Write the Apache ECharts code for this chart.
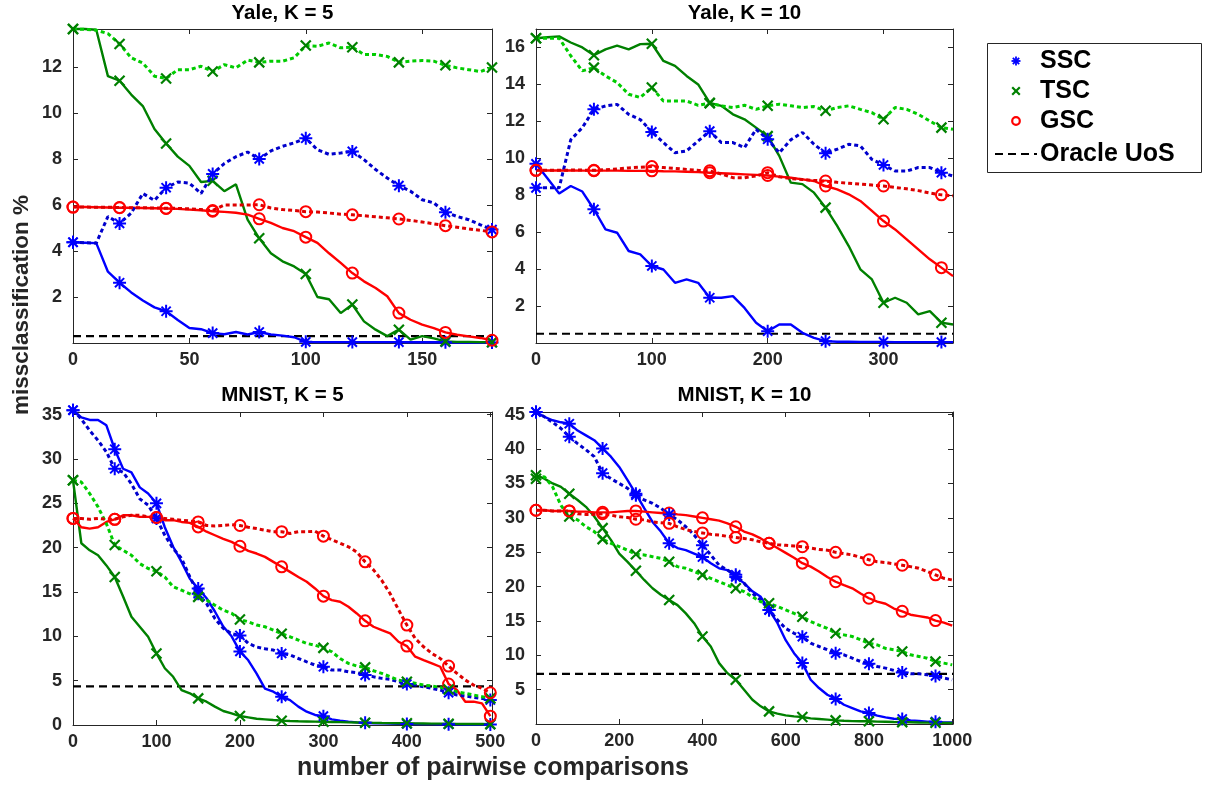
<!DOCTYPE html>
<html>
<head>
<meta charset="utf-8">
<title>Misclassification vs pairwise comparisons</title>
<script src="https://cdn.jsdelivr.net/npm/echarts@6/dist/echarts.min.js"></script>
<style>
  html, body { margin: 0; padding: 0; background: #ffffff; }
  #chart { width: 1208px; height: 786px; }
</style>
</head>
<body>
<div id="chart"></div>
<script>
// ---- x positions (number of pairwise comparisons) ----
const yaleK5X = [0,5,10,15,20,25,30,35,40,45,50,55,60,65,70,75,80,85,90,95,100,105,110,115,120,125,130,135,140,145,150,155,160,165,170,175,180];
const yaleK10X = [0,10,20,30,40,50,60,70,80,90,100,110,120,130,140,150,160,170,180,190,200,210,220,230,240,250,260,270,280,290,300,310,320,330,340,350,360];
const mnistK5X = [0,10,20,30,40,50,60,70,80,90,100,110,120,130,140,150,160,170,180,190,200,210,220,230,240,250,260,270,280,290,300,310,320,330,340,350,360,370,380,390,400,410,420,430,440,450,460,470,480,490,500];
const mnistK10X = [0,20,40,60,80,100,120,140,160,180,200,220,240,260,280,300,320,340,360,380,400,420,440,460,480,500,520,540,560,580,600,620,640,660,680,700,720,740,760,780,800,820,840,860,880,900,920,940,960,980,1000];

// ---- x positions that carry a marker ----
const yaleK5Marks = [0,20,40,60,80,100,120,140,160,180];
const yaleK10Marks = [0,50,100,150,200,250,300,350];
const mnistK5Marks = [0,50,100,150,200,250,300,350,400,450,500];
const mnistK10Marks = [0,80,160,240,320,400,480,560,640,720,800,880,960];

// ---- Yale, K = 5 (solid / dotted) ----
const yaleK5SSC = [4.38,4.36,4.34,3.10,2.62,2.20,1.85,1.55,1.38,1.00,0.65,0.60,0.43,0.38,0.48,0.37,0.48,0.37,0.32,0.25,0.05,0.04,0.04,0.04,0.04,0.04,0.04,0.04,0.04,0.03,0.03,0.03,0.03,0.02,0.02,0.02,0.02];
const yaleK5SSCdot = [4.38,4.36,4.34,5.5,5.2,5.65,6.5,6.2,6.75,7.0,6.95,6.5,7.35,7.8,8.1,8.3,8.0,8.35,8.55,8.7,8.9,8.4,8.2,8.26,8.33,7.97,7.54,7.17,6.84,6.6,6.23,6.09,5.68,5.5,5.36,5.14,4.93];
const yaleK5TSC = [13.65,13.65,13.62,11.6,11.4,10.8,10.3,9.3,8.67,8.1,7.7,7.0,7.05,6.6,6.9,5.36,4.55,3.9,3.55,3.33,3.0,2.0,1.9,1.3,1.67,0.94,0.58,0.3,0.58,0.15,0.3,0.2,0.07,0.05,0.05,0.04,0.03];
const yaleK5TSCdot = [13.65,13.64,13.6,13.45,13.0,12.4,12.17,11.6,11.5,11.88,11.88,12.03,11.8,12.1,11.96,12.3,12.2,12.25,12.25,12.4,12.93,12.9,13.04,12.83,12.86,12.54,12.54,12.46,12.2,12.25,12.28,12.25,12.07,11.96,11.88,11.8,11.98];
const yaleK5GSC = [5.91,5.91,5.9,5.89,5.88,5.88,5.87,5.86,5.85,5.83,5.8,5.77,5.73,5.7,5.66,5.58,5.4,5.22,5.0,4.86,4.6,4.35,3.9,3.48,3.04,2.68,2.39,2.03,1.3,1.01,0.8,0.65,0.46,0.36,0.29,0.22,0.12];
const yaleK5GSCdot = [5.91,5.91,5.9,5.9,5.89,5.88,5.88,5.87,5.86,5.85,5.83,5.8,5.76,6.0,6.0,6.0,6.01,5.87,5.8,5.76,5.71,5.69,5.65,5.6,5.57,5.53,5.49,5.44,5.39,5.33,5.26,5.18,5.1,5.03,4.96,4.9,4.83];

// ---- Yale, K = 10 ----
const yaleK10SSC = [9.7,8.9,8.1,8.5,8.2,7.24,6.15,5.97,4.98,4.8,4.17,3.98,3.26,3.44,3.26,2.45,2.45,2.54,1.9,1.1,0.64,1.0,1.0,0.55,0.28,0.1,0.07,0.07,0.06,0.06,0.06,0.05,0.05,0.05,0.05,0.05,0.05];
const yaleK10SSCdot = [8.4,8.4,8.4,11.0,11.66,12.65,12.83,12.92,12.38,12.1,11.43,10.85,10.3,10.4,10.94,11.47,10.85,10.85,10.58,11.57,11.03,10.3,11.0,11.4,10.76,10.27,10.49,10.76,10.67,9.94,9.64,9.31,9.31,9.5,9.5,9.22,9.04];
const yaleK10TSC = [16.5,16.55,16.6,16.27,16.0,15.58,15.9,16.1,15.9,16.18,16.2,15.27,15.0,14.46,14.0,13.0,12.84,12.38,12.11,11.66,11.2,10.13,8.68,8.6,8.14,7.33,6.34,5.25,3.99,3.44,2.18,2.45,2.18,1.55,1.73,1.1,1.0];
const yaleK10TSCdot = [16.5,16.5,16.5,15.55,14.73,14.91,14.46,14.1,13.47,13.29,13.83,13.1,13.1,13.1,12.87,12.98,12.84,12.75,12.87,12.65,12.84,12.93,12.84,12.75,12.8,12.57,12.75,12.84,12.65,12.47,12.11,12.75,12.65,12.38,12.02,11.66,11.57];
const yaleK10GSC = [9.35,9.34,9.34,9.34,9.33,9.33,9.33,9.33,9.32,9.32,9.32,9.3,9.29,9.27,9.25,9.22,9.19,9.16,9.13,9.1,9.07,9.01,8.95,8.86,8.77,8.5,8.32,8.05,7.69,7.15,6.6,6.15,5.61,5.07,4.53,4.08,3.62];
const yaleK10GSCdot = [9.35,9.35,9.35,9.36,9.36,9.35,9.38,9.42,9.48,9.52,9.55,9.5,9.45,9.4,9.35,9.32,9.15,8.95,8.95,9.05,9.22,9.0,8.9,8.85,8.8,8.77,8.7,8.65,8.6,8.55,8.5,8.42,8.35,8.25,8.12,8.02,7.97];

// ---- MNIST, K = 5 ----
const mnistK5SSC = [35.5,34.7,34.4,34.4,33.8,31.1,28.9,28.5,26.8,26.1,25.0,22.3,20.1,18.4,16.5,15.4,14.3,12.8,11.1,10.0,8.3,7.3,5.8,4.1,3.76,3.2,2.8,2.07,1.5,1.13,1.0,0.64,0.49,0.38,0.3,0.26,0.2,0.18,0.15,0.13,0.12,0.11,0.1,0.1,0.09,0.08,0.07,0.06,0.06,0.05,0.05];
const mnistK5SSCdot = [35.5,34.5,33.2,32.1,30.8,28.9,28.5,27.2,25.5,24.8,23.3,21.4,19.9,18.8,16.7,14.8,13.7,12.0,10.9,10.3,10.1,9.2,8.8,8.6,8.45,8.07,7.9,7.5,7.13,6.76,6.57,6.2,6.2,6.0,5.9,5.63,5.44,5.26,5.14,4.88,4.62,4.5,4.32,4.13,3.94,3.64,3.38,3.27,3.12,3.0,2.82];
const mnistK5TSC = [27.6,20.5,19.7,19.15,18.0,16.7,14.5,12.2,11.08,9.95,8.07,6.4,5.44,3.94,3.57,3.0,2.63,2.07,1.58,1.31,1.01,0.86,0.71,0.64,0.56,0.49,0.45,0.42,0.4,0.38,0.36,0.34,0.32,0.3,0.28,0.26,0.24,0.22,0.21,0.2,0.19,0.18,0.17,0.16,0.15,0.14,0.13,0.12,0.12,0.11,0.1];
const mnistK5TSCdot = [27.6,27.4,26.1,24.6,22.7,20.3,19.7,19.15,18.2,17.65,17.35,16.7,15.6,15.2,14.8,14.45,14.1,13.5,12.95,12.6,11.9,11.64,11.27,11.08,10.7,10.3,9.95,9.58,9.2,9.0,8.7,8.26,7.5,6.95,6.65,6.5,6.12,5.82,5.44,5.07,4.88,4.7,4.5,4.4,4.24,4.0,3.75,3.57,3.38,3.19,3.0];
const mnistK5GSC = [23.3,22.3,22.15,22.3,22.9,23.2,23.66,23.66,23.47,23.47,23.4,23.1,23.1,22.9,22.8,22.34,21.8,21.4,21.0,20.65,20.16,19.64,19.34,18.96,18.4,17.84,17.27,16.7,16.15,15.4,14.53,14.08,13.9,13.33,12.58,11.75,11.08,10.7,10.33,9.39,8.9,7.7,7.32,6.95,6.57,4.62,3.94,2.63,2.63,2.44,1.0];
const mnistK5GSCdot = [23.3,23.3,23.2,23.3,23.2,23.2,23.47,23.66,23.66,23.47,23.4,23.3,23.2,23.1,23.0,22.9,22.5,22.45,22.5,22.6,22.5,22.3,22.15,21.97,21.8,21.8,21.6,21.8,21.8,21.85,21.3,20.9,20.5,20.1,19.5,18.4,17.5,16.3,14.8,13.0,11.27,9.76,8.82,8.07,7.5,6.65,5.82,5.07,4.5,4.13,3.64];

// ---- MNIST, K = 10 ----
const mnistK10SSC = [45.4,44.7,44.2,43.9,43.7,42.7,42.0,41.3,40.1,38.9,37.4,35.5,33.5,31.4,29.4,28.0,26.3,25.6,25.3,24.8,24.3,23.4,22.65,22.4,21.4,20.5,19.3,18.5,16.6,14.7,12.2,10.3,8.86,6.44,5.23,4.26,3.63,2.8,2.32,1.84,1.6,1.21,0.97,0.77,0.73,0.53,0.44,0.34,0.34,0.24,0.24];
const mnistK10SSCdot = [45.4,44.7,43.9,43.0,41.8,40.8,39.9,38.9,36.5,35.7,35.0,34.3,33.3,32.6,32.1,31.4,30.5,29.7,28.7,27.5,26.0,24.6,23.1,22.4,21.7,20.5,19.0,18.05,16.6,15.15,13.9,13.2,12.7,11.76,11.28,10.8,10.3,10.07,9.58,9.1,8.76,8.37,8.13,7.8,7.5,7.3,7.3,7.16,7.0,6.68,6.44];
const mnistK10TSC = [36.2,35.7,35.0,34.5,33.5,32.6,31.6,30.2,28.5,26.8,24.8,23.6,22.3,20.96,19.75,18.8,18.05,17.3,16.1,14.67,12.73,11.28,8.86,7.4,6.44,4.99,3.53,2.57,1.84,1.5,1.26,1.11,1.02,0.82,0.73,0.63,0.53,0.47,0.42,0.4,0.39,0.35,0.32,0.29,0.27,0.25,0.22,0.2,0.18,0.16,0.15];
const mnistK10TSCdot = [35.7,36.0,34.5,31.8,30.2,29.7,28.7,28.0,26.9,26.3,25.8,25.3,24.7,24.6,24.35,24.1,23.6,22.9,22.65,22.2,21.7,21.2,20.7,20.2,19.75,19.26,18.5,17.8,17.57,17.1,16.6,16.1,15.6,14.9,14.4,13.9,13.2,12.97,12.73,12.25,11.76,11.5,11.0,10.8,10.55,10.07,9.83,9.58,9.1,8.86,8.6];
const mnistK10GSC = [31.1,31.1,31.0,31.0,31.0,30.9,30.9,30.8,30.8,30.8,30.9,31.0,31.0,30.9,30.8,30.7,30.7,30.5,30.4,30.2,30.0,29.8,29.6,29.2,28.7,28.0,27.6,27.0,26.3,25.6,24.9,24.2,23.4,22.9,22.2,21.4,20.7,20.2,19.75,19.0,18.3,17.8,17.5,16.8,16.4,15.9,15.7,15.5,15.05,14.76,14.3];
const mnistK10GSCdot = [31.1,31.1,31.0,31.0,31.0,30.6,30.5,30.5,30.6,30.4,30.15,30.05,29.8,29.7,29.4,29.3,29.2,28.7,28.3,28.0,27.8,27.6,27.5,27.3,27.15,27.0,26.8,26.5,26.3,26.1,26.0,25.9,25.8,25.6,25.4,25.3,24.98,24.8,24.6,24.25,23.9,23.6,23.5,23.3,23.1,22.9,22.65,22.2,21.7,21.2,20.96];

// ---- oracle union-of-subspaces levels, titles, legend labels ----
const oracleLevels = [0.3, 0.5, 4.35, 7.3];
const panelTitles = ['Yale, K = 5', 'Yale, K = 10', 'MNIST, K = 5', 'MNIST, K = 10'];
const legendLabels = ['SSC', 'TSC', 'GSC', 'Oracle UoS'];
const xAxisTitle = 'number of pairwise comparisons';
const yAxisTitle = 'missclassification %';

// ---- drawing setup ----
const FONT = "'Liberation Sans', Arial, Helvetica, sans-serif";
const AXIS_COLOR = '#262626';

const SYM_AST = 'path://M6,0L6,12M0,6L12,6M1.76,1.76L10.24,10.24M10.24,1.76L1.76,10.24';
const SYM_X = 'path://M0,0L10,10M10,0L0,10';
const SYM_O = 'path://M10,5A5,5,0,1,1,0,5A5,5,0,1,1,10,5Z';

const methods = [
  { key: 'SSC', symbol: SYM_AST, size: 13, bw: 2, solid: '#0000ff', dotted: '#0000cc', mark: '#0000ff', fill: '#0000ff' },
  { key: 'TSC', symbol: SYM_X, size: 10, bw: 2.2, solid: '#008000', dotted: '#00cc00', mark: '#008000', fill: '#008000' },
  { key: 'GSC', symbol: SYM_O, size: 11, bw: 2, solid: '#ff0000', dotted: '#dd0000', mark: '#ff0000', fill: 'rgba(0,0,0,0)' }
];

const panels = [
  { x: yaleK5X, marks: yaleK5Marks,
    values: { SSC: [yaleK5SSC, yaleK5SSCdot], TSC: [yaleK5TSC, yaleK5TSCdot], GSC: [yaleK5GSC, yaleK5GSCdot] },
    grid: { left: 73, top: 29, width: 419, height: 314 },
    xMax: 180, xInt: 50, yMax: 13.65, yInt: 2, yZero: false },
  { x: yaleK10X, marks: yaleK10Marks,
    values: { SSC: [yaleK10SSC, yaleK10SSCdot], TSC: [yaleK10TSC, yaleK10TSCdot], GSC: [yaleK10GSC, yaleK10GSCdot] },
    grid: { left: 536, top: 29, width: 417, height: 314 },
    xMax: 360, xInt: 100, yMax: 17, yInt: 2, yZero: false },
  { x: mnistK5X, marks: mnistK5Marks,
    values: { SSC: [mnistK5SSC, mnistK5SSCdot], TSC: [mnistK5TSC, mnistK5TSCdot], GSC: [mnistK5GSC, mnistK5GSCdot] },
    grid: { left: 73, top: 412, width: 419, height: 313 },
    xMax: 502, xInt: 100, yMax: 35.3, yInt: 5, yZero: true },
  { x: mnistK10X, marks: mnistK10Marks,
    values: { SSC: [mnistK10SSC, mnistK10SSCdot], TSC: [mnistK10TSC, mnistK10TSCdot], GSC: [mnistK10GSC, mnistK10GSCdot] },
    grid: { left: 536, top: 412, width: 417, height: 312 },
    xMax: 1002, xInt: 200, yMax: 45.4, yInt: 5, yZero: false }
];

function tickFormatter(interval, showZero) {
  return function (v) {
    const r = Math.abs(v / interval - Math.round(v / interval));
    if (r > 1e-6) return '';
    if (v === 0 && !showZero) return '';
    return String(v);
  };
}

const labelStyle = { color: AXIS_COLOR, fontSize: 18, fontWeight: 'bold', fontFamily: FONT };
const tickStyle = { show: true, inside: true, length: 5, lineStyle: { color: AXIS_COLOR, width: 1 } };
const lineAxis = { show: true, onZero: false, lineStyle: { color: AXIS_COLOR, width: 1 } };

const grids = [], xAxes = [], yAxes = [], series = [];

panels.forEach((p, gi) => {
  grids.push(Object.assign({ containLabel: false }, p.grid));
  const xBase = { gridIndex: gi, type: 'value', min: 0, max: p.xMax, interval: p.xInt,
    axisLine: lineAxis, axisTick: tickStyle, splitLine: { show: false } };
  const yBase = { gridIndex: gi, type: 'value', min: 0, max: p.yMax, interval: p.yInt,
    axisLine: lineAxis, axisTick: tickStyle, splitLine: { show: false } };
  xAxes.push(Object.assign({}, xBase, { position: 'bottom',
    axisLabel: Object.assign({ margin: 8, formatter: tickFormatter(p.xInt, true) }, labelStyle) }));
  xAxes.push(Object.assign({}, xBase, { position: 'top', axisLabel: { show: false } }));
  yAxes.push(Object.assign({}, yBase, { position: 'left',
    axisLabel: Object.assign({ margin: 11, formatter: tickFormatter(p.yInt, p.yZero) }, labelStyle) }));
  yAxes.push(Object.assign({}, yBase, { position: 'right', axisLabel: { show: false } }));

  // solid curves first, dotted curves on top
  [0, 1].forEach(variant => {
    methods.forEach(m => {
      const ys = p.values[m.key][variant];
      const dotted = variant === 1;
      series.push({
        type: 'line', name: m.key + (dotted ? ' (dotted)' : ''),
        xAxisIndex: gi * 2, yAxisIndex: gi * 2,
        data: p.x.map((x, i) => ({ value: [x, ys[i]], symbol: p.marks.indexOf(x) >= 0 ? m.symbol : 'none' })),
        showSymbol: true, showAllSymbol: true, symbolSize: m.size, symbolKeepAspect: true,
        clip: false, silent: true, animation: false,
        lineStyle: { color: dotted ? m.dotted : m.solid, width: dotted ? 3 : 2.4,
          type: dotted ? [4, 3] : 'solid', cap: 'butt' },
        itemStyle: { color: m.fill, borderColor: m.mark, borderWidth: m.bw },
        emphasis: { disabled: true }
      });
    });
  });

  series.push({
    type: 'line', name: 'Oracle UoS', xAxisIndex: gi * 2, yAxisIndex: gi * 2,
    data: [[0, oracleLevels[gi]], [p.xMax, oracleLevels[gi]]],
    symbol: 'none', silent: true, animation: false, clip: false,
    lineStyle: { color: '#000000', width: 2.2, type: [8, 5] },
    emphasis: { disabled: true }, z: 1
  });
});

// ---- texts and legend ----
const graphics = [];
panels.forEach((p, gi) => {
  const cx = p.grid.left + p.grid.width / 2;
  const cy = gi < 2 ? 13.5 : 395;
  graphics.push({ type: 'text', x: cx, y: cy, silent: true,
    style: { text: panelTitles[gi], fill: '#000000', font: 'bold 20.5px ' + FONT, align: 'center', verticalAlign: 'middle' } });
});
graphics.push({ type: 'text', x: 493, y: 768, silent: true,
  style: { text: xAxisTitle, fill: AXIS_COLOR, font: 'bold 25px ' + FONT, align: 'center', verticalAlign: 'middle' } });
graphics.push({ type: 'text', x: 22, y: 305, rotation: Math.PI / 2, silent: true,
  style: { text: yAxisTitle, fill: AXIS_COLOR, font: 'bold 22.5px ' + FONT, align: 'center', verticalAlign: 'middle' } });

// legend frame
graphics.push({ type: 'rect', silent: true, shape: { x: 987.5, y: 43.5, width: 214, height: 129 },
  style: { fill: '#ffffff', stroke: AXIS_COLOR, lineWidth: 1 } });

const legendRows = [61, 91, 121, 154];
const gx = 1016;
function seg(x1, y1, x2, y2, color, w) {
  return { type: 'line', silent: true, shape: { x1: x1, y1: y1, x2: x2, y2: y2 }, style: { stroke: color, lineWidth: w } };
}
// SSC asterisk
(function () {
  const y = legendRows[0], r = 4.5, d = r * 0.707;
  graphics.push(seg(gx, y - r, gx, y + r, '#0000ff', 1.8));
  graphics.push(seg(gx - r, y, gx + r, y, '#0000ff', 1.8));
  graphics.push(seg(gx - d, y - d, gx + d, y + d, '#0000ff', 1.8));
  graphics.push(seg(gx - d, y + d, gx + d, y - d, '#0000ff', 1.8));
})();
// TSC cross
(function () {
  const y = legendRows[1], r = 3.8;
  graphics.push(seg(gx - r, y - r, gx + r, y + r, '#008000', 2.2));
  graphics.push(seg(gx - r, y + r, gx + r, y - r, '#008000', 2.2));
})();
// GSC circle
graphics.push({ type: 'circle', silent: true, shape: { cx: gx, cy: legendRows[2], r: 3.8 },
  style: { fill: 'none', stroke: '#ff0000', lineWidth: 2.2 } });
// Oracle dashed line
graphics.push({ type: 'line', silent: true, shape: { x1: 995, y1: legendRows[3], x2: 1037, y2: legendRows[3] },
  style: { stroke: '#000000', lineWidth: 2, lineDash: [8, 5] } });

legendLabels.forEach((t, i) => {
  graphics.push({ type: 'text', x: 1040, y: legendRows[i], silent: true,
    style: { text: t, fill: '#000000', font: 'bold 25px ' + FONT, align: 'left', verticalAlign: 'middle' } });
});

const chart = echarts.init(document.getElementById('chart'), null, { renderer: 'canvas' });
chart.setOption({
  animation: false,
  backgroundColor: '#ffffff',
  grid: grids,
  xAxis: xAxes,
  yAxis: yAxes,
  series: series,
  graphic: graphics
});
</script>
</body>
</html>
